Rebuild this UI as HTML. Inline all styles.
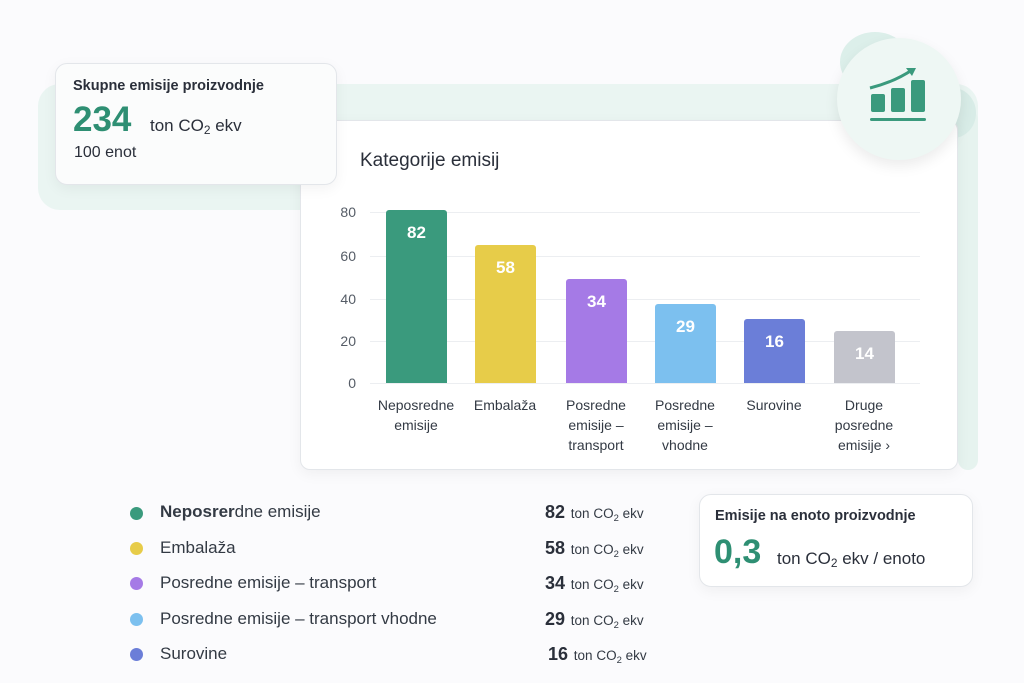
<!DOCTYPE html>
<html><head><meta charset="utf-8"><style>
*{margin:0;padding:0;box-sizing:border-box}
body{width:1024px;height:683px;background:#fbfbfd;font-family:"Liberation Sans",sans-serif;color:#2a2f3a;position:relative;overflow:hidden}
.abs{position:absolute}
.card{position:absolute;background:#fff;border:1px solid #e3e6ea;border-radius:12px;box-shadow:0 4px 14px rgba(0,0,0,0.05)}
.tick{position:absolute;left:320px;width:36px;text-align:right;font-size:14px;color:#555c66}
.grid{position:absolute;left:370px;width:550px;height:1px;background:#eceef1}
.bar{position:absolute;width:61px;border-radius:3px 3px 0 0;color:#fff;font-weight:bold;font-size:17px;text-align:center;padding-top:13px}
.xl{position:absolute;width:90px;text-align:center;font-size:14px;line-height:20px;color:#333a44;top:395px}
.dot{position:absolute;left:130px;width:13px;height:13px;border-radius:50%}
.lt{position:absolute;left:160px;font-size:17px;color:#333a44}
.lv{position:absolute;width:140px;font-size:13.5px;color:#333a44}
.lv b{font-size:18px;color:#2a2f3a}
sub{font-size:70%;vertical-align:-3px}
</style></head><body>
<div class="abs" style="left:38px;top:84px;width:940px;height:126px;background:#eaf5f2;border-radius:22px"></div>
<div class="abs" style="left:958px;top:110px;width:20px;height:360px;background:#e6f3ef;border-radius:10px"></div>
<div class="abs" style="left:840px;top:32px;width:70px;height:60px;background:#dcefea;border-radius:50%"></div>
<div class="abs" style="left:930px;top:88px;width:46px;height:50px;background:#d8ece7;border-radius:50%"></div>
<div class="card" style="left:300px;top:120px;width:658px;height:350px;border-radius:10px"></div>
<div class="abs" style="left:837px;top:38px;width:124px;height:122px;border-radius:50%;background:#eef7f4;box-shadow:0 6px 14px rgba(0,0,0,0.08)"></div>
<svg class="abs" style="left:866px;top:64px" width="64" height="64" viewBox="0 0 64 64">
<rect x="5" y="30" width="14" height="18" rx="2" fill="#3a9a7d"/><rect x="25" y="24" width="14" height="24" rx="2" fill="#3a9a7d"/><rect x="45" y="16" width="14" height="32" rx="2" fill="#3a9a7d"/>
<rect x="4" y="54" width="56" height="3" rx="1.5" fill="#3a9a7d"/>
<path d="M4 24 Q28 18 46 6" stroke="#3a9a7d" stroke-width="3" fill="none"/><path d="M40 4 L50 4 L46 12 Z" fill="#3a9a7d"/></svg>
<div class="card" style="left:55px;top:63px;width:282px;height:122px;background:#fbfcfc">
<div class="abs" style="left:17px;top:14px;font-size:14.5px;font-weight:bold;color:#2a2f3a">Skupne emisije proizvodnje</div>
<div class="abs" style="left:17px;top:36px;font-size:35px;font-weight:bold;color:#2e8f73">234</div>
<div class="abs" style="left:94px;top:52px;font-size:17px">ton CO<sub>2</sub> ekv</div>
<div class="abs" style="left:18px;top:80px;font-size:16px">100 enot</div>
</div>
<div class="abs" style="left:360px;top:150px;font-size:19px;color:#2a2f3a">Kategorije emisij</div>
<div class="grid" style="top:212px"></div><div class="grid" style="top:256px"></div><div class="grid" style="top:299px"></div><div class="grid" style="top:341px"></div><div class="grid" style="top:383px"></div>
<div class="tick" style="top:204px">80</div><div class="tick" style="top:248px">60</div><div class="tick" style="top:291px">40</div><div class="tick" style="top:333px">20</div><div class="tick" style="top:375px">0</div>
<div class="bar" style="left:386px;top:210px;height:173px;background:#3a9a7d">82</div>
<div class="bar" style="left:475px;top:245px;height:138px;background:#e7cc49">58</div>
<div class="bar" style="left:566px;top:279px;height:104px;background:#a57ae6">34</div>
<div class="bar" style="left:655px;top:304px;height:79px;background:#7cc0ef">29</div>
<div class="bar" style="left:744px;top:319px;height:64px;background:#6b7ed8">16</div>
<div class="bar" style="left:834px;top:331px;height:52px;background:#c3c4cc">14</div>
<div class="xl" style="left:371px">Neposredne<br>emisije</div>
<div class="xl" style="left:460px">Embalaža</div>
<div class="xl" style="left:551px">Posredne<br>emisije –<br>transport</div>
<div class="xl" style="left:640px">Posredne<br>emisije –<br>vhodne</div>
<div class="xl" style="left:729px">Surovine</div>
<div class="xl" style="left:819px">Druge<br>posredne<br>emisije ›</div>
<div class="dot" style="top:507px;background:#3a9a7d"></div><div class="lt" style="top:502px"><b>Neposrer</b>dne emisije</div>
<div class="dot" style="top:542px;background:#e7cc49"></div><div class="lt" style="top:538px">Embalaža</div>
<div class="dot" style="top:577px;background:#a57ae6"></div><div class="lt" style="top:573px">Posredne emisije – transport</div>
<div class="dot" style="top:613px;background:#7cc0ef"></div><div class="lt" style="top:609px">Posredne emisije – transport vhodne</div>
<div class="dot" style="top:648px;background:#6b7ed8"></div><div class="lt" style="top:644px">Surovine</div>
<div class="lv" style="top:502px;left:545px"><b>82</b> <span style="margin-left:2px">ton CO<sub>2</sub> ekv</span></div>
<div class="lv" style="top:538px;left:545px"><b>58</b> <span style="margin-left:2px">ton CO<sub>2</sub> ekv</span></div>
<div class="lv" style="top:573px;left:545px"><b>34</b> <span style="margin-left:2px">ton CO<sub>2</sub> ekv</span></div>
<div class="lv" style="top:609px;left:545px"><b>29</b> <span style="margin-left:2px">ton CO<sub>2</sub> ekv</span></div>
<div class="lv" style="top:644px;left:548px"><b>16</b> <span style="margin-left:2px">ton CO<sub>2</sub> ekv</span></div>
<div class="card" style="left:699px;top:494px;width:274px;height:93px">
<div class="abs" style="left:15px;top:13px;font-size:14.5px;font-weight:bold">Emisije na enoto proizvodnje</div>
<div class="abs" style="left:14px;top:38px;font-size:34px;font-weight:bold;color:#2e8f73">0,3</div>
<div class="abs" style="left:77px;top:54px;font-size:17px">ton CO<sub>2</sub> ekv / enoto</div>
</div>
</body></html>
